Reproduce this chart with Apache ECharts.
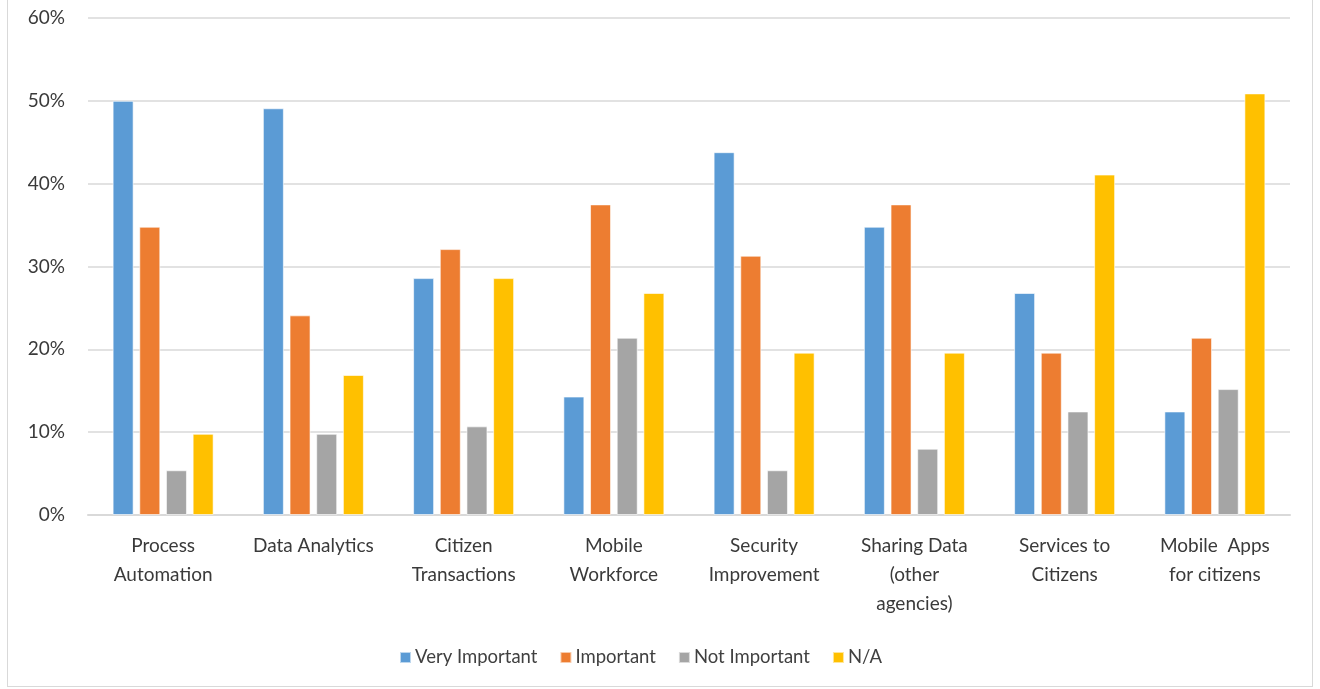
<!DOCTYPE html>
<html>
<head>
<meta charset="utf-8">
<script src="https://cdn.jsdelivr.net/npm/echarts@6/dist/echarts.min.js"></script>
<style>
  html, body {margin: 0; padding: 0; background: #fff;}
  #frame {position: absolute; left: 7px; top: -1px; width: 1306px; height: 688px; border: 1px solid #d9d9d9; box-sizing: border-box;}
  #chart {position: absolute; left: 0; top: 0; width: 1320px; height: 689px;}
</style>
</head>
<body>
<div id="frame"></div>
<div id="chart"></div>
<script>
  // categories on the x axis
  const categories = [
    'Process\nAutomation',
    'Data Analytics',
    'Citizen\nTransactions',
    'Mobile\nWorkforce',
    'Security\nImprovement',
    'Sharing Data\n(other\nagencies)',
    'Services to\nCitizens',
    'Mobile  Apps\nfor citizens'
  ];

  // percentages
  const veryImportant = [50.0, 49.1, 28.6, 14.3, 43.8, 34.8, 26.8, 12.5];
  const important     = [34.8, 24.1, 32.1, 37.5, 31.3, 37.5, 19.6, 21.4];
  const notImportant  = [5.4, 9.8, 10.7, 21.4, 5.4, 8.0, 12.5, 15.2];
  const notApplicable = [9.8, 16.9, 28.6, 26.8, 19.6, 19.6, 41.1, 50.9];

  const seriesNames = ['Very Important', 'Important', 'Not Important', 'N/A'];
  const colors = ['#5b9bd5', '#ed7d31', '#a5a5a5', '#ffc000'];

  const font = 'Lato, "Liberation Sans", sans-serif';

  const chart = echarts.init(document.getElementById('chart'));

  const bar = (name, data) => ({
    name: name,
    type: 'bar',
    data: data,
    barWidth: 21,
    barGap: '27%',
    itemStyle: {borderColor: 'rgba(255,255,255,0.6)', borderWidth: 1}
  });

  chart.setOption({
    animation: false,
    color: colors,
    textStyle: {fontFamily: font},
    grid: {left: 88, right: 30, top: 18, bottom: 174, containLabel: false},
    legend: {
      data: seriesNames,
      left: 394,
      top: 643,
      icon: 'rect',
      itemWidth: 11,
      itemHeight: 11,
      itemGap: 22,
      textStyle: {fontSize: 18.5, color: '#404040', fontFamily: font, padding: [0, 0, 0, -1]}
    },
    xAxis: {
      type: 'category',
      data: categories,
      axisTick: {show: false},
      axisLine: {lineStyle: {color: '#d9d9d9', width: 2}},
      axisLabel: {
        interval: 0,
        margin: 16,
        fontSize: 19,
        lineHeight: 29,
        color: '#3a3a3a',
        fontFamily: font,
        verticalAlign: 'top'
      }
    },
    yAxis: {
      type: 'value',
      min: 0,
      max: 60,
      interval: 10,
      axisLine: {show: false},
      axisTick: {show: false},
      splitLine: {lineStyle: {color: '#d9d9d9', width: 1.5}},
      axisLabel: {
        formatter: '{value}%',
        fontSize: 19,
        margin: 23,
        color: '#3a3a3a',
        fontFamily: font
      }
    },
    series: [
      bar(seriesNames[0], veryImportant),
      bar(seriesNames[1], important),
      bar(seriesNames[2], notImportant),
      bar(seriesNames[3], notApplicable)
    ]
  });
</script>
</body>
</html>
